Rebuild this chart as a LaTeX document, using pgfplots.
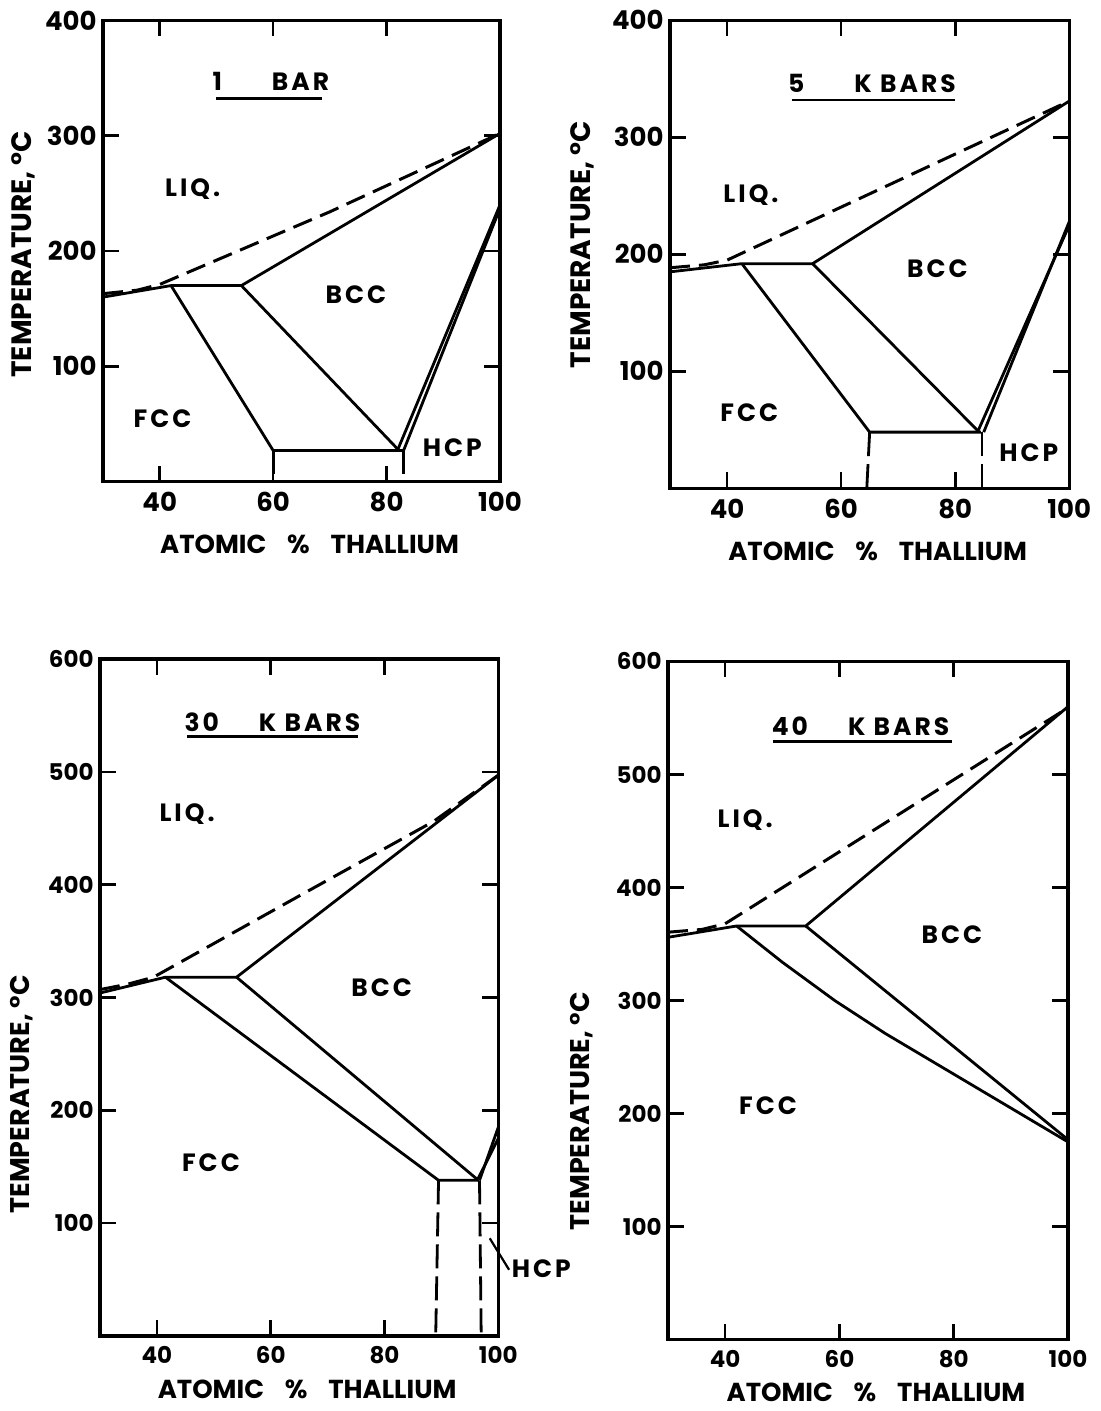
\documentclass[border=0pt]{standalone}
\usepackage{fontspec}
\setmainfont{Poppins}
\newfontfamily\lblfont{Poppins}[LetterSpace=12]
\usepackage{pgfplots}
\pgfplotsset{compat=1.18}
\newcommand\regfont{\lblfont\bfseries\fontsize{12.5}{13}\selectfont}
\newcommand\xlabfont{\bfseries\fontsize{13}{13}\selectfont}
\newcommand\ylabfontA{\bfseries\fontsize{14}{14}\selectfont}
\newcommand\ylabfontB{\bfseries\fontsize{13.5}{14}\selectfont}
\newcommand\tickfontA{\bfseries\fontsize{13}{13}\selectfont}
\newcommand\tickfontB{\bfseries\fontsize{11.5}{12}\selectfont}
\pgfplotsset{
  panel/.style={
    scale only axis, xmin=30, xmax=100, ymin=0, clip=false,
    axis line style={line width=1.6pt},
    tick align=inside, major tick length=8pt,
    tick style={black, line width=1.3pt},
    xtick={40,60,80,100},
    /pgf/number format/assume math mode=true,
    /pgf/number format/1000 sep={},
    xticklabel style={inner sep=0pt, yshift=-5pt},
    yticklabel style={inner sep=0pt, xshift=-3pt},
    xlabel={ATOMIC\hspace{0.8em}\%\hspace{0.8em}THALLIUM},
    ylabel={TEMPERATURE,\ °C},
    xlabel style={font=\xlabfont, at={(axis description cs:0.5,0)}, anchor=base, xshift=4pt},
  },
  bd/.style={black, line width=1.4pt, no marks},
  dsh/.style={black, line width=1.5pt, no marks, dash pattern=on 10pt off 4.5pt},
  vd/.style={black, line width=1.4pt, no marks, dash pattern=on 12pt off 4pt},
}
\begin{document}
\begin{tikzpicture}
\path[use as bounding box] (0,0) rectangle (550pt,-705.5pt);

% ---------------- 1 BAR ----------------
\begin{axis}[panel, at={(51.5pt,-240.8pt)}, anchor=south west,
  width=198.5pt, height=230.6pt, ymax=400, ytick={100,200,300,400},
  ticklabel style={font=\tickfontA},
  xlabel style={yshift=-36pt},
  ylabel style={font=\ylabfontA, at={(axis description cs:-0.2,0.493)}, anchor=center}]
\addplot[dsh] coordinates {(30,163) (36,166) (40,171) (70,234) (100,302)};
\addplot[bd] coordinates {(30,160) (42,170) (54.4,170) (100,302)};
\addplot[bd] coordinates {(42,170) (60,27) (83,27)};
\addplot[bd] coordinates {(54.4,170) (82,28)};
\addplot[bd] coordinates {(82,28) (100,240)};
\addplot[bd] coordinates {(83,27) (100,237)};
\addplot[vd] coordinates {(60,27) (60,0)};
\addplot[vd] coordinates {(83,27) (83,0)};
\addplot[bd, line width=1.3pt] coordinates {(50,332.4) (68.6,332.4)};
\node[font=\regfont] at (axis cs:59.6,347) {1\hspace{2em}BAR};
\node[font=\regfont] at (axis cs:45.8,253.6) {LIQ.};
\node[font=\regfont] at (axis cs:74.6,161.7) {BCC};
\node[font=\regfont] at (axis cs:40.5,54.2) {FCC};
\node[font=\regfont] at (axis cs:91.6,29.3) {HCP};
\end{axis}

% ---------------- 5 K BARS ----------------
\begin{axis}[panel, at={(335pt,-244.15pt)}, anchor=south west,
  width=199.65pt, height=234pt, ymax=400, ytick={100,200,300,400},
  ticklabel style={font=\tickfontA},
  xlabel style={yshift=-36pt},
  ylabel style={font=\ylabfontA, at={(axis description cs:-0.219,0.52)}, anchor=center}]
\addplot[dsh] coordinates {(30,188.5) (36,191) (40,195) (70,263) (100,331)};
\addplot[bd] coordinates {(30,185) (42.6,192) (55,192) (100,331)};
\addplot[bd] coordinates {(42.6,192) (65,48) (84.5,48)};
\addplot[bd] coordinates {(55,192) (84,49)};
\addplot[bd] coordinates {(84,49) (100,225)};
\addplot[bd] coordinates {(85,48) (100,228)};
\addplot[vd] coordinates {(65,48) (64.5,0)};
\addplot[vd] coordinates {(84.7,48) (84.7,0)};
\addplot[bd, line width=1.3pt] coordinates {(51.3,332) (79.9,332)};
\node[font=\regfont] at (axis cs:65.4,346) {5\hspace{2em}K BARS};
\node[font=\regfont] at (axis cs:44.2,251) {LIQ.};
\node[font=\regfont] at (axis cs:76.9,187.7) {BCC};
\node[font=\regfont] at (axis cs:43.9,65) {FCC};
\node[font=\regfont] at (axis cs:92.9,30.8) {HCP};
\end{axis}

% ---------------- 30 K BARS ----------------
\begin{axis}[panel, at={(50pt,-668pt)}, anchor=south west,
  width=199.15pt, height=338.5pt, ymax=600, ytick={100,200,300,400,500,600},
  ticklabel style={font=\tickfontB},
  xlabel style={yshift=-31pt},
  ylabel style={font=\ylabfontB, at={(axis description cs:-0.197,0.357)}, anchor=center}]
\addplot[dsh] coordinates {(30,307) (35,312) (39.4,318) (65,390) (88.6,456) (100,497)};
\addplot[bd] coordinates {(30,304) (41.5,318) (54,318) (100,497)};
\addplot[bd] coordinates {(41.5,318) (89.5,138) (96.5,138)};
\addplot[bd] coordinates {(54,318) (96.5,138)};
\addplot[bd] coordinates {(96.3,138) (100,175)};
\addplot[bd] coordinates {(96.7,138) (100,185)};
\addplot[vd] coordinates {(89.5,138) (89,0)};
\addplot[vd] coordinates {(96.7,138) (97,0)};
\addplot[bd, line width=1.1pt] coordinates {(98.5,86.6) (101.9,58.7)};
\addplot[bd, line width=1.3pt] coordinates {(45.3,531.5) (75.3,531.5)};
\node[font=\regfont] at (axis cs:60.3,544) {30\hspace{1.6em}K BARS};
\node[font=\regfont] at (axis cs:45.3,462.5) {LIQ.};
\node[font=\regfont] at (axis cs:79.5,308.6) {BCC};
\node[font=\regfont] at (axis cs:49.5,154) {FCC};
\node[font=\regfont, anchor=west, inner sep=0pt] at (axis cs:102.3,60) {HCP};
\end{axis}

% ---------------- 40 K BARS ----------------
\begin{axis}[panel, at={(334pt,-669.9pt)}, anchor=south west,
  width=200pt, height=339.2pt, ymax=600, ytick={100,200,300,400,500,600},
  ticklabel style={font=\tickfontB},
  xlabel style={yshift=-31pt},
  ylabel style={font=\ylabfontB, at={(axis description cs:-0.216,0.337)}, anchor=center}]
\addplot[dsh] coordinates {(30,360.5) (36,363) (40,368) (100,559)};
\addplot[bd] coordinates {(30,356) (42,366) (54.1,366) (100,560)};
\addplot[bd] coordinates {(42,366) (50,334) (59.2,300) (68,271) (80,235) (100,175)};
\addplot[bd] coordinates {(54.1,366) (100,177)};
\addplot[bd, line width=1.3pt] coordinates {(48.4,529) (79.7,529)};
\node[font=\regfont] at (axis cs:63.7,543) {40\hspace{1.6em}K BARS};
\node[font=\regfont] at (axis cs:43.5,459.8) {LIQ.};
\node[font=\regfont] at (axis cs:79.7,358) {BCC};
\node[font=\regfont] at (axis cs:47.5,207) {FCC};
\end{axis}
\end{tikzpicture}
\end{document}
